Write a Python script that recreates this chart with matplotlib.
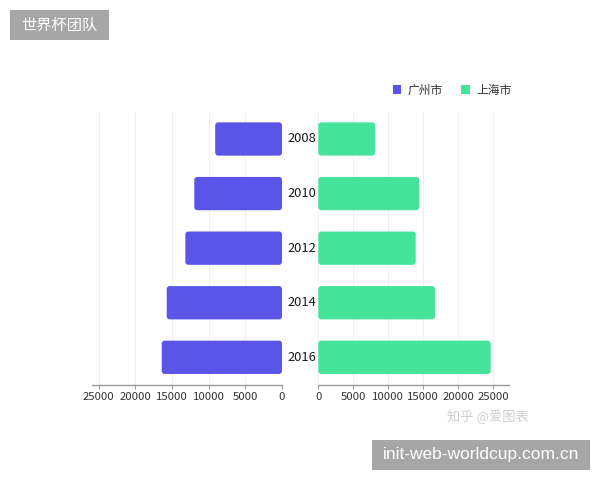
import matplotlib
matplotlib.use("Agg")
import matplotlib.pyplot as plt
from matplotlib.patches import FancyBboxPatch, Rectangle, Patch
import matplotlib.transforms as mtransforms

plt.rcParams['font.family'] = ['Noto Sans CJK SC', 'DejaVu Sans']

years = ['2008', '2010', '2012', '2014', '2016']
guangzhou = [9100, 11950, 13170, 15710, 16390]
shanghai = [8100, 14390, 13910, 16670, 24630]
ticks = [0, 5000, 10000, 15000, 20000, 25000]
series_names = ['广州市', '上海市']

c_gz = '#5a54e8'
c_sh = '#46e39b'

W, H = 600, 480
fig = plt.figure(figsize=(6, 4.8), dpi=100)

def fx(px):
    return px / W

def fy(py):
    return 1 - py / H

top_px, bot_px = 111.7, 384.6
axL = fig.add_axes([fx(91.7), fy(bot_px), fx(282 - 91.7), (bot_px - top_px) / H])
axR = fig.add_axes([fx(318.3), fy(bot_px), fx(509 - 318.3), (bot_px - top_px) / H])

ypos = list(range(len(years)))

def rounded(ax, bars, color, px_per_x, px_per_y, r_px=3):
    for b in bars:
        x0, y0, w, h = b.get_x(), b.get_y(), b.get_width(), b.get_height()
        if w < 0:
            x0, w = x0 + w, -w
        rs = r_px / px_per_x
        asp = (r_px / px_per_y) / rs
        p = FancyBboxPatch((x0, y0), w, h,
                           boxstyle=f"round,pad=0,rounding_size={rs}",
                           mutation_aspect=asp, facecolor=color,
                           edgecolor='none', zorder=3)
        ax.add_patch(p)
        b.set_visible(False)

for ax, vals, col, xmax in [(axL, guangzhou, c_gz, 25930), (axR, shanghai, c_sh, 27240)]:
    bars = ax.barh(ypos, vals, height=0.61, color=col)
    ax.set_xlim(0, xmax)
    ax.set_ylim(len(years) - 0.5, -0.5)
    ax.set_xticks(ticks)
    ax.set_xticklabels([str(t) for t in ticks])
    ax.set_yticks([])
    for s in ['top', 'right', 'left']:
        ax.spines[s].set_visible(False)
    ax.spines['bottom'].set_color('#9a9a9a')
    ax.spines['bottom'].set_linewidth(1.0)
    ax.tick_params(axis='x', colors='#9a9a9a', length=3, width=0.8,
                   labelsize=8.2, labelcolor='#333333', pad=2)
    ax.grid(axis='x', color='#f0f0f0', linewidth=0.8, zorder=0)
    ax.set_axisbelow(True)
    bbox = ax.get_position()
    wpx = bbox.width * W
    hpx = bbox.height * H
    rounded(ax, bars, col, wpx / xmax, hpx / len(years))

axL.invert_xaxis()

trans = mtransforms.blended_transform_factory(fig.transFigure, axR.transData)
for i, y in enumerate(years):
    fig.text(fx(302), ypos[i], y, transform=trans, ha='center', va='center',
             fontsize=9.3, color='#1a1a1a', fontweight='medium')

handles = [Patch(facecolor=c_gz, edgecolor='none'), Patch(facecolor=c_sh, edgecolor='none')]
fig.legend(handles, series_names, loc='center', bbox_to_anchor=(fx(452), fy(90)),
           ncol=2, frameon=False, fontsize=8.5, handlelength=0.75, handleheight=0.75,
           handletextpad=0.5, columnspacing=1.6, labelcolor='#333333')

# title box
fig.patches.append(Rectangle((fx(10), fy(40)), fx(99), 30 / H, transform=fig.transFigure,
                             facecolor='#a6a6a6', edgecolor='none', zorder=5))
fig.text(fx(59.5), fy(25), '世界杯团队', ha='center', va='center', color='white',
         fontsize=11, zorder=6)

# watermark
fig.text(fx(488), fy(417), '知乎 @爱图表', ha='center', va='center', color='#cfcfcf',
         fontsize=9.5)

# bottom box
fig.patches.append(Rectangle((fx(372), fy(470)), fx(218), 30 / H, transform=fig.transFigure,
                             facecolor='#a6a6a6', edgecolor='none', zorder=5))
fig.text(fx(481), fy(455), 'init-web-worldcup.com.cn', ha='center', va='center',
         color='white', fontsize=12.5, family=['Liberation Sans', 'DejaVu Sans'], zorder=6)

fig.savefig('out.png', dpi=100)
